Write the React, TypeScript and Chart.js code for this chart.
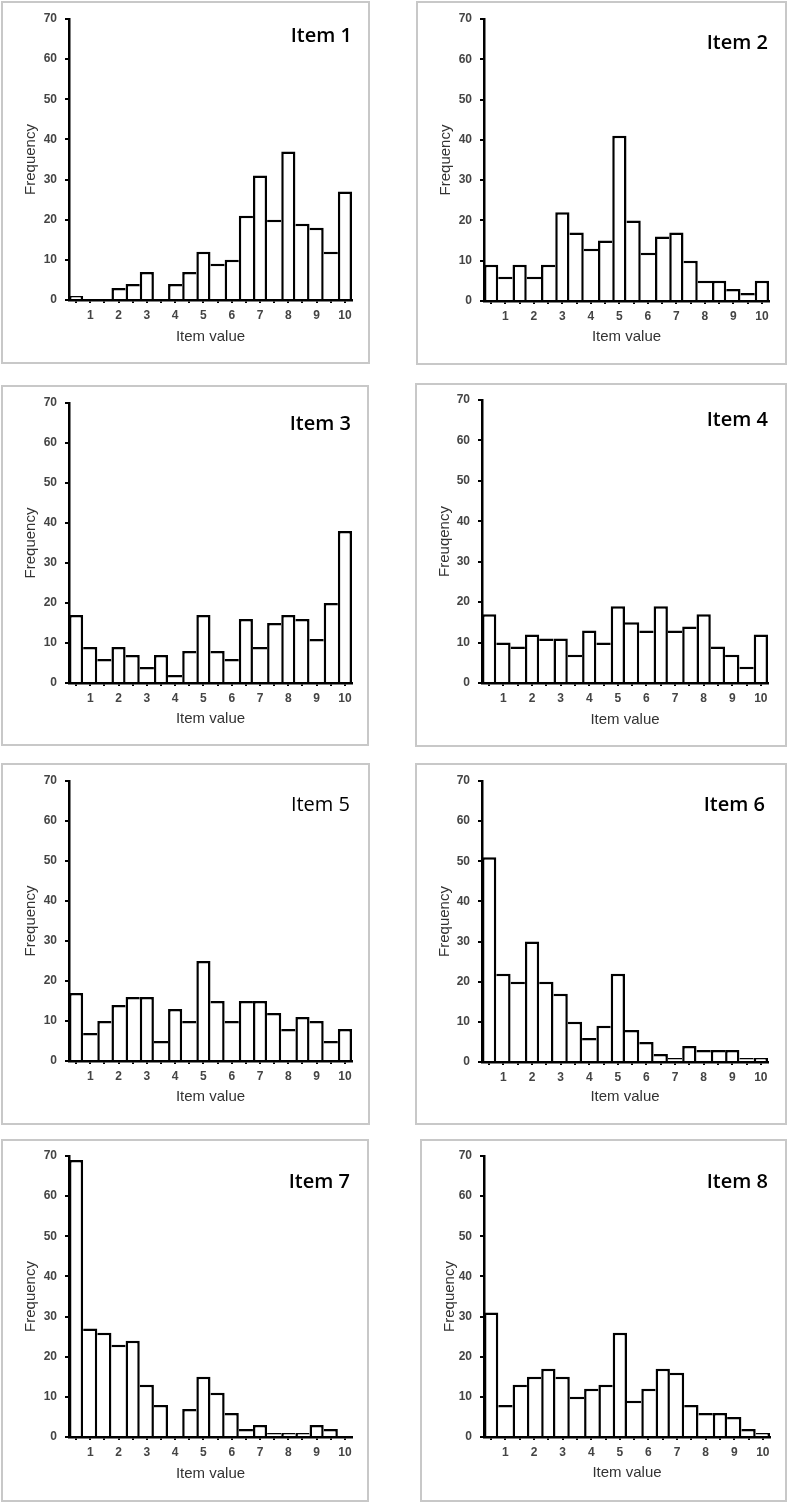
import React, { useEffect, useRef } from "react";
import { Chart, registerables } from "chart.js";

Chart.register(...registerables);

// ---------- data ----------
const binCenters = [0.5, 1, 1.5, 2, 2.5, 3, 3.5, 4, 4.5, 5, 5.5, 6, 6.5, 7, 7.5, 8, 8.5, 9, 9.5, 10];
const yTicks = [0, 10, 20, 30, 40, 50, 60, 70];
const itemTitles = ["Item 1", "Item 2", "Item 3", "Item 4", "Item 5", "Item 6", "Item 7", "Item 8"];
const yAxisTitles = ["Frequency", "Frequency", "Frequency", "Freuqency", "Frequency", "Frequency", "Frequency", "Frequency"];
const xAxisTitle = "Item value";

const item1 = [1, 0, 0, 3, 4, 7, 0, 4, 7, 12, 9, 10, 21, 31, 20, 37, 19, 18, 12, 27];
const item2 = [9, 6, 9, 6, 9, 22, 17, 13, 15, 41, 20, 12, 16, 17, 10, 5, 5, 3, 2, 5];
const item3 = [17, 9, 6, 9, 7, 4, 7, 2, 8, 17, 8, 6, 16, 9, 15, 17, 16, 11, 20, 38];
const item4 = [17, 10, 9, 12, 11, 11, 7, 13, 10, 19, 15, 13, 19, 13, 14, 17, 9, 7, 4, 12];
const item5 = [17, 7, 10, 14, 16, 16, 5, 13, 10, 25, 15, 10, 15, 15, 12, 8, 11, 10, 5, 8];
const item6 = [51, 22, 20, 30, 20, 17, 10, 6, 9, 22, 8, 5, 2, 1, 4, 3, 3, 3, 1, 1];
const item7 = [69, 27, 26, 23, 24, 13, 8, 0, 7, 15, 11, 6, 2, 3, 1, 1, 1, 3, 2, 0];
const item8 = [31, 8, 13, 15, 17, 15, 10, 12, 13, 26, 9, 12, 17, 16, 8, 6, 6, 5, 2, 1];
const itemValues = [item1, item2, item3, item4, item5, item6, item7, item8];

// ---------- layout (positions / sizes) ----------
type PanelLayout = {
  x: number; y: number; w: number; h: number;
  pl: number; pt: number; pb: number; pr: number;
  tr: number; tc: number; tw: number; xt: number;
};
const layouts: PanelLayout[] = [
  { x: 1, y: 1, w: 369, h: 363, pl: 68, pt: 18, pb: 299, pr: 351, tr: 351, tc: 34.5, tw: 600, xt: 336 },
  { x: 416, y: 1, w: 371, h: 364, pl: 68, pt: 18, pb: 300, pr: 353, tr: 352, tc: 42, tw: 600, xt: 336 },
  { x: 1, y: 385, w: 368, h: 361, pl: 68, pt: 18, pb: 298, pr: 351, tr: 350, tc: 38.3, tw: 600, xt: 334 },
  { x: 415, y: 383, w: 372, h: 364, pl: 67, pt: 17, pb: 300, pr: 353, tr: 353, tc: 36.5, tw: 600, xt: 337 },
  { x: 1, y: 763, w: 369, h: 362, pl: 68, pt: 18, pb: 298, pr: 351, tr: 349, tc: 41.2, tw: 400, xt: 334 },
  { x: 415, y: 763, w: 372, h: 362, pl: 67, pt: 18, pb: 299, pr: 353, tr: 350, tc: 41.7, tw: 600, xt: 334 },
  { x: 1, y: 1139, w: 368, h: 363, pl: 68, pt: 17, pb: 298, pr: 351, tr: 349, tc: 42.3, tw: 600, xt: 335 },
  { x: 420, y: 1139, w: 367, h: 363, pl: 64, pt: 17, pb: 298, pr: 350, tr: 348, tc: 42.7, tw: 600, xt: 334 },
];

const FONT = "'Liberation Sans', Arial, sans-serif";
const TEXT_COLOR = "#333333";
const TICK_COLOR = "#444444";

function Panel({ index }: { index: number }) {
  const ref = useRef<HTMLCanvasElement | null>(null);
  const L = layouts[index];

  useEffect(() => {
    const canvas = ref.current;
    if (!canvas) return;
    const values = itemValues[index];
    const titleLH = 18;
    const chart = new Chart(canvas, {
      type: "bar",
      data: {
        labels: binCenters.map((v) => String(v)),
        datasets: [
          {
            data: values,
            backgroundColor: "#ffffff",
            borderColor: "#000000",
            borderWidth: (ctx: any) => {
              const d = ctx.dataset.data as number[];
              const i = ctx.dataIndex;
              const h = d[i];
              const prev = i > 0 ? d[i - 1] : -1;
              const next = i < d.length - 1 ? d[i + 1] : -1;
              return { top: 2.5, left: prev <= h ? 2.5 : 0, right: next < h ? 2.5 : 0, bottom: 0 };
            },
            borderSkipped: false,
            barPercentage: 1,
            categoryPercentage: 1,
            inflateAmount: 0,
          } as any,
        ],
      },
      options: {
        responsive: false,
        animation: false,
        devicePixelRatio: 1,
        layout: { padding: { top: L.pt, right: L.w - L.pr, bottom: 0, left: 0 } },
        plugins: { legend: { display: false }, tooltip: { enabled: false }, title: { display: false } },
        scales: {
          x: {
            type: "category",
            offset: true,
            z: 1,
            afterFit: (s: any) => { s.height = L.h - L.pb; },
            grid: { display: true, drawOnChartArea: false, drawTicks: true, tickLength: 3, offset: false, color: "#000", lineWidth: 2 },
            border: { display: true, color: "#000", width: 2.5 },
            ticks: {
              autoSkip: false,
              maxRotation: 0,
              minRotation: 0,
              padding: 5,
              color: TICK_COLOR,
              font: { family: FONT, size: 12, weight: "bold" },
              callback: (_v: any, i: number) => (Number.isInteger(binCenters[i]) ? String(binCenters[i]) : ""),
            },
            title: {
              display: true,
              text: xAxisTitle,
              color: TEXT_COLOR,
              font: { family: FONT, size: 15, lineHeight: titleLH / 15 },
              padding: { top: 0, bottom: L.h - titleLH / 2 - L.xt },
            },
          },
          y: {
            min: 0,
            max: 70,
            z: 1,
            afterFit: (s: any) => { s.width = L.pl; },
            afterBuildTicks: (s: any) => { s.ticks = yTicks.map((v) => ({ value: v })); },
            grid: { display: true, drawOnChartArea: false, drawTicks: true, tickLength: 4, color: "#000", lineWidth: 2 },
            border: { display: true, color: "#000", width: 2.5 },
            ticks: {
              padding: 8,
              color: TICK_COLOR,
              font: { family: FONT, size: 12, weight: "bold" },
            },
            title: {
              display: true,
              text: yAxisTitles[index],
              color: TEXT_COLOR,
              font: { family: FONT, size: 15, lineHeight: titleLH / 15 },
              padding: { top: 30 - titleLH / 2, bottom: 0 },
            },
          },
        },
      } as any,
    });
    return () => chart.destroy();
  }, [index]);

  return (
    <div style={{ position: "absolute", left: L.x, top: L.y, width: L.w, height: L.h }}>
      <canvas ref={ref} width={L.w} height={L.h} style={{ position: "absolute", left: 0, top: 0, width: L.w, height: L.h }} />
      <div
        style={{
          position: "absolute",
          right: L.w - L.tr,
          top: L.tc - 12.6,
          fontFamily: "'Open Sans', sans-serif",
          fontSize: 20,
          lineHeight: "24px",
          fontWeight: L.tw,
          color: "#000",
          whiteSpace: "nowrap",
        }}
      >
        {itemTitles[index]}
      </div>
      <div
        style={{
          position: "absolute",
          left: 0,
          top: 0,
          width: L.w,
          height: L.h,
          boxSizing: "border-box",
          border: "2px solid #c8c8c8",
          pointerEvents: "none",
        }}
      />
    </div>
  );
}

export default function App() {
  return (
    <div style={{ position: "absolute", left: 0, top: 0, width: 788, height: 1503, background: "#fff" }}>
      {itemValues.map((_, i) => (
        <Panel key={i} index={i} />
      ))}
    </div>
  );
}
